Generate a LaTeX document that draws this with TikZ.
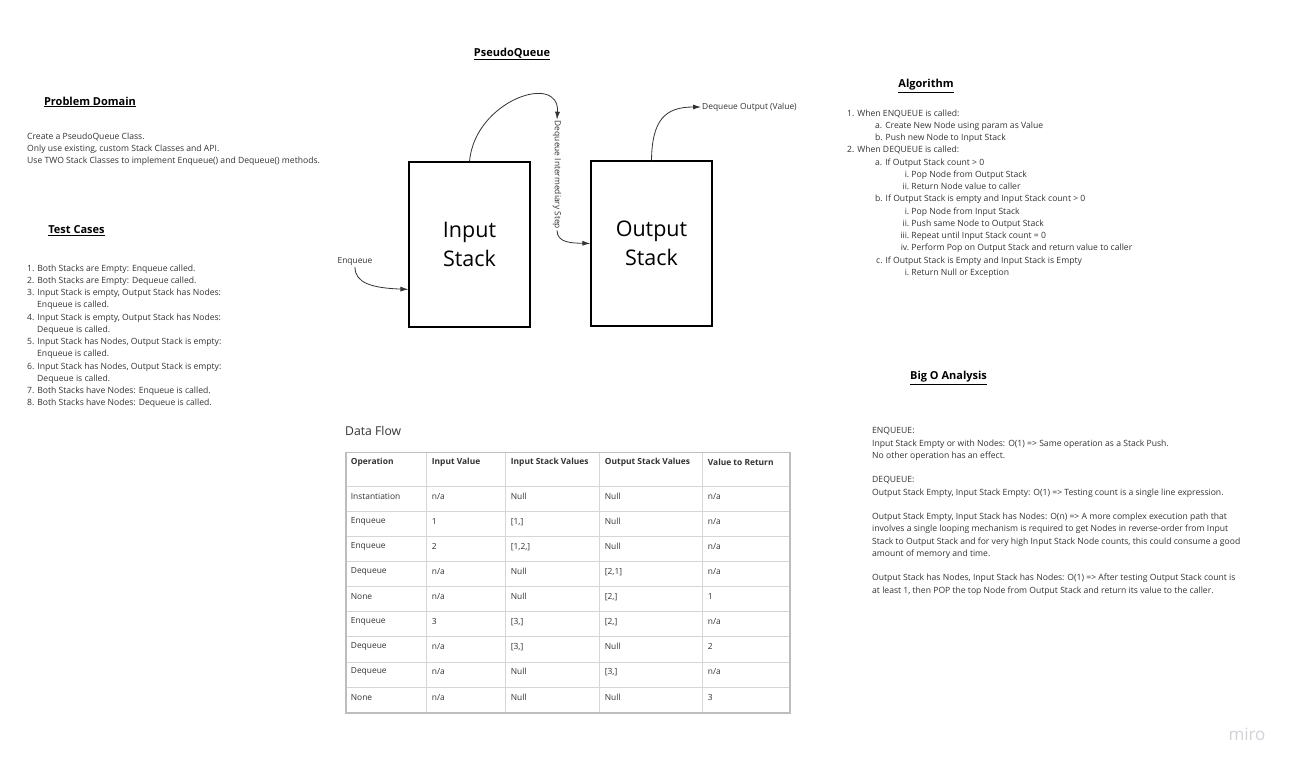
\documentclass[tikz,border=0pt]{standalone}
\usepackage{fontspec}
\setmainfont{Open Sans}
\usetikzlibrary{arrows.meta,calc}
\definecolor{txt}{HTML}{333333}
\definecolor{gridc}{HTML}{D6D6D6}
\definecolor{gridout}{HTML}{BDBDBD}
\definecolor{mirogray}{HTML}{D2D2D8}
\begin{document}
\begin{tikzpicture}[x=1pt,y=-1pt,
  body/.style={font=\fontsize{8.6}{12.25}\selectfont, text=txt, align=left, inner sep=0pt, anchor=north west},
  head/.style={font=\fontsize{11}{13}\selectfont\bfseries, text=black, inner sep=0pt},
  stackbox/.style={draw, line width=1.2pt, minimum width=121pt, minimum height=165pt, font=\fontsize{21.5}{29}\selectfont, align=center, inner sep=0pt},
  lab/.style={font=\fontsize{8.4}{10}\selectfont, text=txt, inner sep=1pt},
  conn/.style={line width=0.8pt, draw=txt, -{Latex[length=8pt,width=5pt]}},
  cell/.style={font=\fontsize{8.4}{10}\selectfont, text=txt, inner sep=0pt, anchor=west},
  hcell/.style={font=\fontsize{8.4}{10}\selectfont\bfseries, text=txt, inner sep=0pt, anchor=west}
]
\useasboundingbox (0,0) rectangle (1297,770);
\fill[white] (0,0) rectangle (1297,770);

% headings
\node[head] (hpq) at (512,54) {\underline{PseudoQueue}};
\node[head] (hpd) at (90,102) {\underline{Problem Domain}};
\node[head] (htc) at (76.5,231) {\underline{Test Cases}};
\node[head] (hal) at (926,86) {\underline{Algorithm}};
\node[head] (hbo) at (948.5,378) {\underline{Big O Analysis}};

% problem domain
\node[body] (pd) at (27,132.4) {Create a PseudoQueue Class.\\
Only use existing, custom Stack Classes and API.\\
Use TWO Stack Classes to implement Enqueue() and Dequeue() methods.};

% test cases
\node[body] (tc) at (27,264.4) {1. Both Stacks are Empty: Enqueue called.\\
2. Both Stacks are Empty: Dequeue called.\\
3. Input Stack is empty, Output Stack has Nodes:\\
\hspace*{10pt}Enqueue is called.\\
4. Input Stack is empty, Output Stack has Nodes:\\
\hspace*{10pt}Dequeue is called.\\
5. Input Stack has Nodes, Output Stack is empty:\\
\hspace*{10pt}Enqueue is called.\\
6. Input Stack has Nodes, Output Stack is empty:\\
\hspace*{10pt}Dequeue is called.\\
7. Both Stacks have Nodes: Enqueue is called.\\
8. Both Stacks have Nodes: Dequeue is called.};

% algorithm
\node[body] (alg) at (847,109.4) {1. When ENQUEUE is called:\\
\hspace*{28pt}a. Create New Node using param as Value\\
\hspace*{28pt}b. Push new Node to Input Stack\\
2. When DEQUEUE is called:\\
\hspace*{28pt}a. If Output Stack count > 0\\
\hspace*{48pt}\makebox[14pt][r]{i.} Pop Node from Output Stack\\
\hspace*{48pt}\makebox[14pt][r]{ii.} Return Node value to caller\\
\hspace*{28pt}b. If Output Stack is empty and Input Stack count > 0\\
\hspace*{48pt}\makebox[14pt][r]{i.} Pop Node from Input Stack\\
\hspace*{48pt}\makebox[14pt][r]{ii.} Push same Node to Output Stack\\
\hspace*{48pt}\makebox[14pt][r]{iii.} Repeat until Input Stack count = 0\\
\hspace*{48pt}\makebox[14pt][r]{iv.} Perform Pop on Output Stack and return value to caller\\
\hspace*{29pt}c. If Output Stack is Empty and Input Stack is Empty\\
\hspace*{48pt}\makebox[14pt][r]{i.} Return Null or Exception};

% big O
\node[body] (bigo) at (872,427.4) {ENQUEUE:\\
Input Stack Empty or with Nodes: O(1) => Same operation as a Stack Push.\\
No other operation has an effect.\\[12.25pt]
DEQUEUE:\\
Output Stack Empty, Input Stack Empty: O(1) => Testing count is a single line expression.\\[12.25pt]
Output Stack Empty, Input Stack has Nodes: O(n) => A more complex execution path that\\
involves a single looping mechanism is required to get Nodes in reverse-order from Input\\
Stack to Output Stack and for very high Input Stack Node counts, this could consume a good\\
amount of memory and time.\\[12.25pt]
Output Stack has Nodes, Input Stack has Nodes: O(1) => After testing Output Stack count is\\
at least 1, then POP the top Node from Output Stack and return its value to the caller.};

% stacks diagram
\node[stackbox] (in) at (469.5,244.5) {Input\\Stack};
\node[stackbox] (out) at (651.5,243.5) {Output\\Stack};
\node[lab] (enq) at (355,262) {Enqueue};
\node[lab, rotate=-90] (mid) at (557,175) {Dequeue Intermediary Step};
\node[lab, anchor=west] (dqo) at (701,107) {Dequeue Output (Value)};

\draw[conn] (enq.south) .. controls (355,283) and (372,288) .. ($(in.north west)!0.77!(in.south west)$);
\draw[conn] (in.north) .. controls (475,100) and (560,72) .. (mid.west);
\draw[conn] (mid.east) .. controls (557,243) and (572,243) .. (out.west);
\draw[conn] (out.north) .. controls (652,120) and (665,107) .. (dqo.west);

% data flow
\node[font=\fontsize{12.2}{14}\selectfont, text=txt, inner sep=0pt, anchor=west] (df) at (345,431) {Data Flow};

% table grid
\foreach \yy in {486,511.7,536.7,561.7,586.7,611.7,636.7,662.3,687.3}
  \draw[gridc, line width=1pt] (345.7,\yy) -- (790,\yy);
\foreach \xx in {426.7,505.7,599.7,702.7}
  \draw[gridc, line width=1pt] (\xx,452.3) -- (\xx,712.7);
\draw[gridout, line width=1.6pt] (345.7,452.3) rectangle (790,712.7);

% header
\node[hcell] (h1) at (350.7,462) {Operation};
\node[hcell] (h2) at (431.7,462) {Input Value};
\node[hcell] (h3) at (510.7,462) {Input Stack Values};
\node[hcell] (h4) at (604.7,462) {Output Stack Values};
\node[hcell] (h5) at (707.7,462) {Value to Return};

% rows
\foreach \yy/\a/\b/\c/\d/\e in {
  496.7/Instantiation/n\slash a/Null/Null/n\slash a,
  521.7/Enqueue/1/{[1,]}/Null/n\slash a,
  546.7/Enqueue/2/{[1,2,]}/Null/n\slash a,
  571.7/Dequeue/n\slash a/Null/{[2,1]}/n\slash a,
  596.7/None/n\slash a/Null/{[2,]}/1,
  621.7/Enqueue/3/{[3,]}/{[2,]}/n\slash a,
  646.7/Dequeue/n\slash a/{[3,]}/Null/2,
  671.7/Dequeue/n\slash a/Null/{[3,]}/n\slash a,
  697.3/None/n\slash a/Null/Null/3}{
  \node[cell] at (350.7,\yy) {\a};
  \node[cell] at (431.7,\yy) {\b};
  \node[cell] at (510.7,\yy) {\c};
  \node[cell] at (604.7,\yy) {\d};
  \node[cell] at (707.7,\yy) {\e};
}

% logo
\node[font=\fontsize{17}{20}\selectfont, text=mirogray, inner sep=0pt] (logo) at (1247,734) {miro};
\end{tikzpicture}
\end{document}
